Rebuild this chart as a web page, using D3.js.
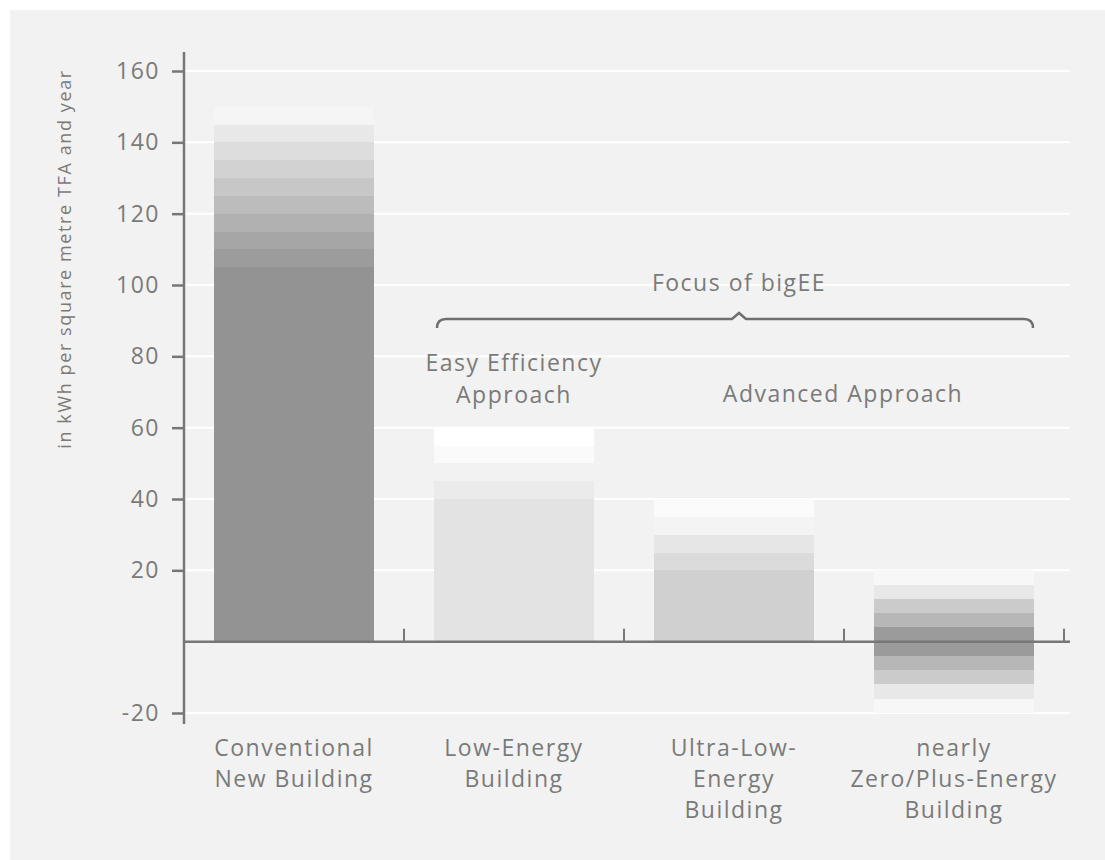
<!DOCTYPE html>
<html>
<head>
<meta charset="utf-8">
<script src="https://cdn.jsdelivr.net/npm/d3@7"></script>
<style>
  html, body { margin: 0; padding: 0; background: #ffffff; }
  svg { display: block; }
  text { font-family: "Open Sans", Lato, sans-serif; fill: #7a7a7a; letter-spacing: 1.5px; }
</style>
</head>
<body>
<svg id="chart" width="1105" height="860"></svg>
<script>
// ---------- DATA ----------
const categories = [
  "Conventional New Building",
  "Low-Energy Building",
  "Ultra-Low-Energy Building",
  "nearly Zero/Plus-Energy Building"
];
const categoryLabelLines = [
  ["Conventional", "New Building"],
  ["Low-Energy", "Building"],
  ["Ultra-Low-", "Energy", "Building"],
  ["nearly", "Zero/Plus-Energy", "Building"]
];
// band boundaries (kWh per m² TFA and year) of each bar's shaded range
const conventionalBands = [0, 105, 110, 115, 120, 125, 130, 135, 140, 145, 150];
const lowEnergyBands    = [0, 40, 45, 50, 55, 60];
const ultraLowBands     = [0, 20, 25, 30, 35, 40];
const nearlyZeroBands   = [-20, -16, -12, -8, -4, 0, 4, 8, 12, 16, 20];
const yTicks = [-20, 20, 40, 60, 80, 100, 120, 140, 160];
const yTitle = "in kWh per square metre TFA and year";
const focusLabel = "Focus of bigEE";
const approachLabels = [["Easy Efficiency", "Approach"], ["Advanced Approach"]];

// ---------- STYLE ----------
const shades = [
  ["#929392", "#9c9c9c", "#a6a6a6", "#b1b1b1", "#bcbcbc", "#c7c7c7", "#d2d2d2", "#dddddd", "#e8e8e8", "#f5f5f5"],
  ["#e3e3e3", "#ebebeb", "#f2f2f2", "#fafafa", "#ffffff"],
  ["#d0d0d0", "#dbdbdb", "#e6e6e6", "#f4f4f4", "#fbfbfb"],
  ["#f7f7f7", "#e8e8e8", "#cbcbcb", "#b6b7b6", "#9b9b9b", "#9b9b9b", "#b6b7b6", "#cbcbcb", "#e8e8e8", "#f7f7f7"]
];
const allBands = [conventionalBands, lowEnergyBands, ultraLowBands, nearlyZeroBands];
const FS = 23;

const svg = d3.select("#chart");
const W = 1105, H = 860;

// panel background
svg.append("rect").attr("x", 10).attr("y", 10).attr("width", W - 10).attr("height", H - 10).attr("fill", "#f2f2f2");

const plotLeft = 184, plotRight = 1064, axisEnd = 1070;
const y = d3.scaleLinear().domain([-20, 160]).range([713, 71]);
const x = d3.scaleBand().domain(categories).range([plotLeft, plotRight])
  .paddingInner(60 / 220).paddingOuter(30 / 220);
const step = x.step();

// gridlines
svg.append("g").selectAll("line").data(yTicks).join("line")
  .attr("x1", plotLeft).attr("x2", axisEnd)
  .attr("y1", d => y(d)).attr("y2", d => y(d))
  .attr("stroke", "#ffffff").attr("stroke-width", 2);

// bars (stacked shaded segments)
const segs = [];
allBands.forEach((b, i) => {
  for (let k = 0; k < b.length - 1; k++) {
    segs.push({cat: categories[i], lo: b[k], hi: b[k + 1], color: shades[i][k]});
  }
});
svg.append("g").selectAll("rect").data(segs).join("rect")
  .attr("x", d => x(d.cat))
  .attr("width", x.bandwidth())
  .attr("y", d => y(d.hi))
  .attr("height", d => y(d.lo) - y(d.hi))
  .attr("fill", d => d.color)
  .attr("shape-rendering", "crispEdges");

// y axis
const yAxis = d3.axisLeft(y).tickValues(yTicks).tickSize(12).tickPadding(14).tickFormat(d => String(d));
const gy = svg.append("g").attr("transform", `translate(${plotLeft},0)`).call(yAxis);
gy.select(".domain").remove();
gy.selectAll(".tick line").attr("stroke", "#777").attr("stroke-width", 2.5);
gy.selectAll(".tick text").attr("font-size", FS).attr("fill", "#7a7a7a")
  .style("font-family", "'Open Sans', sans-serif").attr("dx", 2);
svg.append("line").attr("x1", plotLeft).attr("x2", plotLeft).attr("y1", 52).attr("y2", 724)
  .attr("stroke", "#777").attr("stroke-width", 2.5);

// x axis at zero
const y0 = y(0);
svg.append("line").attr("x1", plotLeft).attr("x2", axisEnd).attr("y1", y0).attr("y2", y0)
  .attr("stroke", "#777").attr("stroke-width", 2.5);
const xBoundaries = categories.map(c => x(c) - x.paddingOuter() * step + step);
svg.append("g").selectAll("line").data(xBoundaries).join("line")
  .attr("x1", d => d).attr("x2", d => d).attr("y1", y0).attr("y2", y0 - 13)
  .attr("stroke", "#777").attr("stroke-width", 2);

// x labels
categories.forEach((c, i) => {
  const cx = x(c) + x.bandwidth() / 2;
  const t = svg.append("text").attr("text-anchor", "middle").attr("font-size", FS)
    .attr("x", cx).attr("y", 756);
  categoryLabelLines[i].forEach((ln, j) => {
    t.append("tspan").attr("x", cx).attr("dy", j === 0 ? 0 : 31).text(ln);
  });
});

// y title
svg.append("text").attr("transform", `translate(71,259) rotate(-90)`)
  .attr("text-anchor", "middle").attr("font-size", 18).style("letter-spacing", "1.6px").text(yTitle);

// focus brace
const bx0 = x(categories[1]) + 3, bx1 = x(categories[3]) + x.bandwidth() - 1;
const bmid = 739, by = 319;
const brace = d3.path();
brace.moveTo(bx0, by + 9);
brace.quadraticCurveTo(bx0, by, bx0 + 9, by);
brace.lineTo(bmid - 7, by);
brace.lineTo(bmid, by - 6);
brace.lineTo(bmid + 7, by);
brace.lineTo(bx1 - 9, by);
brace.quadraticCurveTo(bx1, by, bx1, by + 9);
svg.append("path").attr("d", brace.toString()).attr("fill", "none")
  .attr("stroke", "#6f6f6f").attr("stroke-width", 2.5);

svg.append("text").attr("x", bmid).attr("y", 291).attr("text-anchor", "middle")
  .attr("font-size", FS).text(focusLabel);

const ex = x(categories[1]) + x.bandwidth() / 2;
const ease = svg.append("text").attr("text-anchor", "middle").attr("font-size", FS)
  .attr("x", ex).attr("y", 371);
approachLabels[0].forEach((ln, j) => ease.append("tspan")
  .attr("x", ex).attr("dy", j === 0 ? 0 : 32).text(ln));
svg.append("text").attr("text-anchor", "middle").attr("font-size", FS)
  .attr("x", 843).attr("y", 402)
  .text(approachLabels[1][0]);
</script>
</body>
</html>
